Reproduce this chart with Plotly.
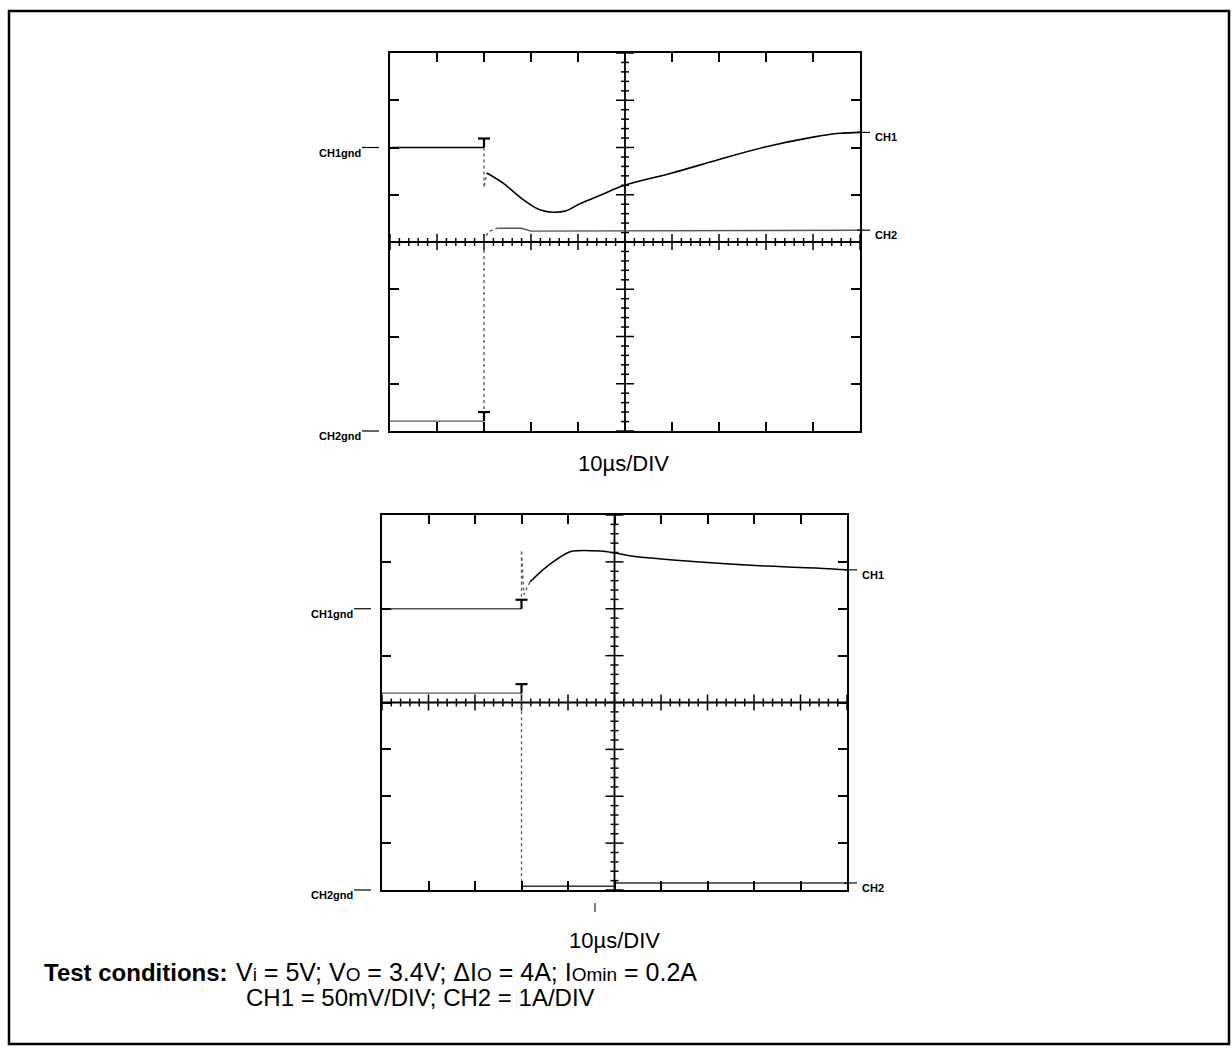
import numpy as np
import plotly.graph_objects as go

W, H = 1232, 1057

# ---------------- data (division units: x 0..10, y 0..8) ----------------
n_xdiv = 10
n_ydiv = 8
minor_step = 0.2
time_label = "10µs/DIV"

# Panel 1 (top): load step up, CH1 dips then recovers, CH2 current rises
top_ch1_pre_x = [0.0, 2.0]
top_ch1_pre_y = [6.0, 6.0]
top_ch1_spike_x = [2.0, 2.0, 2.03, 2.06]
top_ch1_spike_y = [6.0, 5.15, 5.30, 5.46]
top_ch1_x = [2.06, 2.40, 2.83, 3.19, 3.45, 3.75, 4.04, 4.50, 4.96, 6.00, 6.98, 7.98, 9.00, 9.57, 10.0]
top_ch1_y = [5.46, 5.25, 4.90, 4.68, 4.63, 4.66, 4.81, 5.00, 5.19, 5.46, 5.74, 6.01, 6.22, 6.30, 6.32]
top_ch2_pre_x = [0.0, 2.0]
top_ch2_pre_y = [0.21, 0.21]
top_ch2_step_x = [2.0, 2.0, 2.1, 2.28]
top_ch2_step_y = [0.21, 4.05, 4.22, 4.29]
top_ch2_x = [2.28, 2.8, 3.0, 5.0, 7.0, 10.0]
top_ch2_y = [4.29, 4.29, 4.23, 4.24, 4.24, 4.25]
top_trig_x = [2.0, 2.0]
top_trig_y = [6.0, 0.21]

# Panel 2 (bottom): load step down, CH1 overshoots then settles, CH2 current falls
bot_ch1_pre_x = [0.0, 3.0]
bot_ch1_pre_y = [6.0, 6.0]
bot_ch1_spike_x = [3.0, 3.0, 3.05, 3.18]
bot_ch1_spike_y = [6.0, 7.25, 6.30, 6.57]
bot_ch1_x = [3.18, 3.46, 3.68, 3.98, 4.11, 4.69, 5.01, 5.40, 6.84, 8.28, 9.70, 10.0]
bot_ch1_y = [6.57, 6.83, 7.00, 7.19, 7.23, 7.23, 7.19, 7.12, 7.00, 6.91, 6.85, 6.83]
bot_ch2_pre_x = [0.0, 3.0]
bot_ch2_pre_y = [4.2, 4.2]
bot_ch2_step_x = [3.0, 3.0, 3.03]
bot_ch2_step_y = [4.2, 0.12, 0.08]
bot_ch2_x = [3.03, 5.0, 5.0, 10.0]
bot_ch2_y = [0.08, 0.08, 0.15, 0.15]
bot_trig_x = [3.0, 3.0]
bot_trig_y = [6.0, 4.2]

# ---------------- layout geometry (pixels) ----------------
def px(x):
    return x / W

def py(y):
    return 1 - y / H

panels = [
    dict(x0=390, x1=860, y0=53, y1=431),   # top
    dict(x0=382, x1=847, y0=515, y1=890),  # bottom
]

def to_px(i, xd, yd):
    p = panels[i]
    return (p["x0"] + xd / n_xdiv * (p["x1"] - p["x0"]),
            p["y1"] - yd / n_ydiv * (p["y1"] - p["y0"]))

fig = go.Figure()

BLACK = "#000000"
GRAY = "#555555"

def add_line(xs, ys, ax, color=BLACK, width=1.6, dash="solid", shape="linear"):
    fig.add_trace(go.Scatter(
        x=xs, y=ys, mode="lines", xaxis=ax[0], yaxis=ax[1],
        line=dict(color=color, width=width, dash=dash, shape=shape),
        hoverinfo="skip", showlegend=False, cliponaxis=False))

def cross(ax, pxdiv_x, pxdiv_y):
    xc, yc = n_xdiv / 2, n_ydiv / 2
    add_line([0, n_xdiv], [yc, yc], ax, width=1.8)
    add_line([xc, xc], [0, n_ydiv], ax, width=1.8)
    xs, ys = [], []
    for t in np.arange(0, n_xdiv + 1e-9, minor_step):
        major = abs(t - round(t)) < 1e-6
        h = (8 if major else 4) / pxdiv_y
        xs += [t, t, None]
        ys += [yc - h, yc + h, None]
    for t in np.arange(0, n_ydiv + 1e-9, minor_step):
        major = abs(t - round(t)) < 1e-6
        h = (9 if major else 4) / pxdiv_x
        xs += [xc - h, xc + h, None]
        ys += [t, t, None]
    add_line(xs, ys, ax, width=1.5)

def triggers(tx, ty, ax, pxdiv_x, pxdiv_y):
    xs, ys = [], []
    stem = 9 / pxdiv_y
    half = 6 / pxdiv_x
    for x, y in zip(tx, ty):
        xs += [x, x, None, x - half, x + half, None]
        ys += [y, y + stem, None, y + stem, y + stem, None]
    add_line(xs, ys, ax, width=2.2)

for i, p in enumerate(panels):
    n = "" if i == 0 else "2"
    xa = dict(domain=[px(p["x0"]), px(p["x1"])], range=[0, n_xdiv],
              showline=True, linecolor=BLACK, linewidth=2, mirror="ticks",
              ticks="inside", ticklen=9, tickwidth=2, tickcolor=BLACK,
              tick0=0, dtick=1, showticklabels=False, showgrid=False,
              zeroline=False, anchor="y" + n, fixedrange=True)
    ya = dict(domain=[py(p["y1"]), py(p["y0"])], range=[0, n_ydiv],
              showline=True, linecolor=BLACK, linewidth=2, mirror="ticks",
              ticks="inside", ticklen=9, tickwidth=2, tickcolor=BLACK,
              tick0=0, dtick=1, showticklabels=False, showgrid=False,
              zeroline=False, anchor="x" + n, fixedrange=True)
    fig.layout["xaxis" + n] = xa
    fig.layout["yaxis" + n] = ya

ax1 = ("x", "y")
ax2 = ("x2", "y2")
pdx1 = (panels[0]["x1"] - panels[0]["x0"]) / n_xdiv
pdy1 = (panels[0]["y1"] - panels[0]["y0"]) / n_ydiv
pdx2 = (panels[1]["x1"] - panels[1]["x0"]) / n_xdiv
pdy2 = (panels[1]["y1"] - panels[1]["y0"]) / n_ydiv

cross(ax1, pdx1, pdy1)
cross(ax2, pdx2, pdy2)

# top traces
add_line(top_ch2_pre_x, top_ch2_pre_y, ax1, color=GRAY, width=1.4)
add_line(top_ch2_step_x, top_ch2_step_y, ax1, color=GRAY, width=1.3, dash="dot")
add_line(top_ch2_x, top_ch2_y, ax1, color=GRAY, width=1.4)
add_line(top_ch1_pre_x, top_ch1_pre_y, ax1, width=1.6)
add_line(top_ch1_spike_x, top_ch1_spike_y, ax1, color=GRAY, width=1.3, dash="dot")
add_line(top_ch1_x, top_ch1_y, ax1, width=1.6, shape="spline")
triggers(top_trig_x, top_trig_y, ax1, pdx1, pdy1)

# bottom traces
add_line(bot_ch2_pre_x, bot_ch2_pre_y, ax2, color=GRAY, width=1.4)
add_line(bot_ch2_step_x, bot_ch2_step_y, ax2, color=GRAY, width=1.3, dash="dot")
add_line(bot_ch2_x, bot_ch2_y, ax2, color="#333333", width=1.6)
add_line(bot_ch1_pre_x, bot_ch1_pre_y, ax2, color=GRAY, width=1.5)
add_line(bot_ch1_spike_x, bot_ch1_spike_y, ax2, color=GRAY, width=1.3, dash="dot")
add_line(bot_ch1_x, bot_ch1_y, ax2, width=1.5, shape="spline")
triggers(bot_trig_x, bot_trig_y, ax2, pdx2, pdy2)

# ---------------- labels ----------------
LBL = dict(family="Liberation Sans Narrow, Liberation Sans, Arial", size=11, color=BLACK)
shapes = []
annotations = []

def gnd_label(text, i, yval):
    x0, y0 = to_px(i, 0, yval)
    shapes.append(dict(type="line", xref="paper", yref="paper",
                       x0=px(x0 - 28), x1=px(x0 - 11), y0=py(y0), y1=py(y0),
                       line=dict(color=BLACK, width=1.2)))
    annotations.append(dict(text="<b>%s</b>" % text, xref="paper", yref="paper",
                            x=px(x0 - 27), y=py(y0 + 5), xanchor="right", yanchor="middle",
                            showarrow=False, font=LBL))

def ch_label(text, i, yval):
    x0, y0 = to_px(i, n_xdiv, yval)
    shapes.append(dict(type="line", xref="paper", yref="paper",
                       x0=px(x0 - 3), x1=px(x0 + 10), y0=py(y0), y1=py(y0),
                       line=dict(color=BLACK, width=1.2)))
    annotations.append(dict(text="<b>%s</b>" % text, xref="paper", yref="paper",
                            x=px(x0 + 13), y=py(y0 + 5), xanchor="left", yanchor="middle",
                            showarrow=False, font=LBL))

gnd_label("CH1gnd", 0, top_ch1_pre_y[0])
gnd_label("CH2gnd", 0, 0)
gnd_label("CH1gnd", 1, bot_ch1_pre_y[0])
gnd_label("CH2gnd", 1, 0)
ch_label("CH1", 0, top_ch1_y[-1])
ch_label("CH2", 0, top_ch2_y[-1])
ch_label("CH1", 1, bot_ch1_y[-1])
ch_label("CH2", 1, bot_ch2_y[-1])

TXT = dict(family="Liberation Sans, Arial", size=22, color=BLACK)
annotations.append(dict(text=time_label, xref="paper", yref="paper",
                        x=px(623), y=py(463), xanchor="center", yanchor="middle",
                        showarrow=False, font=TXT))
annotations.append(dict(text=time_label, xref="paper", yref="paper",
                        x=px(614), y=py(940), xanchor="center", yanchor="middle",
                        showarrow=False, font=TXT))

def small(s):
    return '<span style="font-size:19px">%s</span>' % s

COND = dict(family="Liberation Sans, Arial", size=24, color=BLACK)
COND1 = dict(family="Liberation Sans, Arial", size=25, color=BLACK)
annotations.append(dict(
    text="<b>Test conditions:</b>",
    xref="paper", yref="paper", x=px(230), y=py(972), xanchor="right",
    yanchor="middle", showarrow=False, font=COND))
annotations.append(dict(
    text="V" + small("i") + " = 5V; V" + small("O") + " = 3.4V; "
         "ΔI" + small("O") + " = 4A; I" + small("Omin") + " = 0.2A",
    xref="paper", yref="paper", x=px(234), y=py(972), xanchor="left",
    yanchor="middle", showarrow=False, font=COND1))
annotations.append(dict(
    text="CH1 = 50mV/DIV; CH2 = 1A/DIV",
    xref="paper", yref="paper", x=px(244), y=py(997), xanchor="left",
    yanchor="middle", showarrow=False, font=COND))

# outer frame
shapes.append(dict(type="rect", xref="paper", yref="paper",
                   x0=px(9), x1=px(1229), y0=py(1044), y1=py(11),
                   line=dict(color=BLACK, width=2.5), layer="above"))
# small stray scan mark under the lower graticule
shapes.append(dict(type="line", xref="paper", yref="paper",
                   x0=px(595), x1=px(595), y0=py(903), y1=py(912),
                   line=dict(color=BLACK, width=1)))

fig.update_layout(
    width=W, height=H,
    margin=dict(l=0, r=0, t=0, b=0, pad=0),
    paper_bgcolor="white", plot_bgcolor="white",
    shapes=shapes, annotations=annotations,
    showlegend=False,
)

fig.write_html("out.html", config={"displayModeBar": False},
               post_script="document.body.style.margin='0';document.documentElement.style.overflow='hidden';")
